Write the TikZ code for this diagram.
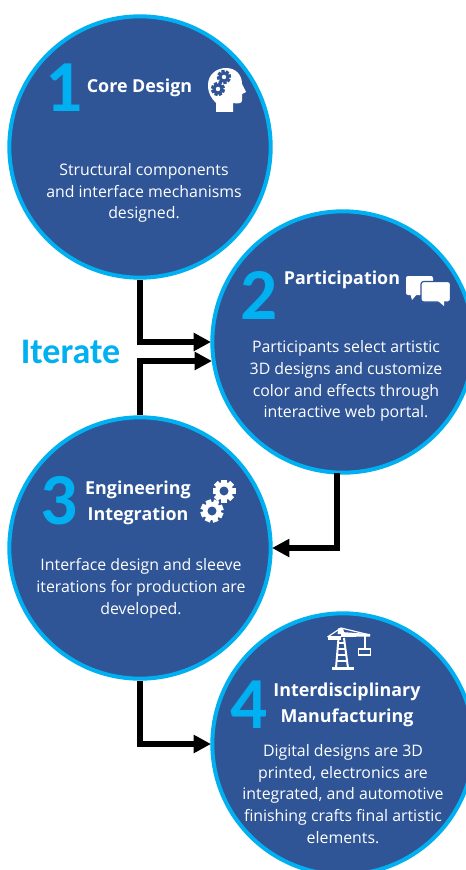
\documentclass[tikz,border=0pt]{standalone}
\usepackage{fontspec}
\setmainfont{Open Sans}
\newfontfamily\numfont{Carlito}
\usetikzlibrary{arrows.meta}
\definecolor{disc}{HTML}{2F5597}
\definecolor{cyanc}{HTML}{00B0F0}
\tikzset{
  x=0.75pt,y=-0.75pt,
  stage/.style={circle,draw=cyanc,line width=3pt,fill=disc,minimum size=196pt,inner sep=0pt},
  num/.style={text=cyanc,font=\numfont\bfseries\fontsize{55pt}{55pt}\selectfont,inner sep=0pt},
  ttl/.style={text=white,align=center,font=\bfseries\fontsize{13.4pt}{19.5pt}\selectfont,inner sep=0pt},
  body/.style={text=white,align=center,font=\fontsize{11.9pt}{16.4pt}\selectfont,inner sep=0pt},
  link/.style={draw=black,line width=3.9pt,-{Triangle[length=13pt,width=13pt]}},
  iconw/.style={fill=white,draw=none},
}
% gear: x, y, outer radius, hole radius, gear colour, rotation, hole colour
\newcommand{\gearicon}[7]{%
  \foreach \a in {0,45,...,315}{\fill[#5,rotate around={\a+#6:(#1,#2)}] (#1-0.24*#3,#2) rectangle (#1+0.24*#3,#2-#3);}
  \fill[#5] (#1,#2) circle[radius=0.78*#3];
  \fill[#7] (#1,#2) circle[radius=#4];
}
\begin{document}
\begin{tikzpicture}
\useasboundingbox (0,0) rectangle (466,870);
\fill[white] (0,0) rectangle (466,870);
\begin{scope}
\clip (0,0) rectangle (466,870);
\node[stage] (c1) at (140,147) {};
\node[stage] (c2) at (343,342) {};
\node[stage] (c3) at (140,548) {};
\node[stage] (c4) at (343,744) {};

\coordinate (p1) at (211,342);
\coordinate (p2) at (212,361);
\coordinate (o2) at (337,473);
\coordinate (p3) at (272,548);
\coordinate (p4) at (211,744);
\path[link] (c1.south) |- (p1);
\path[link] (c3.north) |- (p2);
\path[link] (o2) |- (p3);
\path[link] (c3.south) |- (p4);

\node[num] (n1) at (64,88) {1};
\node[num] (n2) at (259,295) {2};
\node[num] (n3) at (59,501) {3};
\node[num] (n4) at (249,705) {4};
\node[text=cyanc,font=\numfont\bfseries\fontsize{27pt}{27pt}\selectfont,inner sep=0pt] (it) at (70.5,352) {Iterate};

\node[ttl] (t1) at (139.5,88) {Core Design};
\node[ttl] (t2) at (342,280) {Participation};
\node[ttl] (t3) at (138,503) {Engineering\\Integration};
\node[ttl] (t4) at (347,705) {Interdisciplinary\\Manufacturing};

\node[body] (b1) at (144,193) {Structural components\\and interface mechanisms\\designed.};
\node[body] (b2) at (346,381) {Participants select artistic\\3D designs and customize\\color and effects through\\interactive web portal.};
\node[body] (b3) at (141,588) {Interface design and sleeve\\iterations for production are\\developed.};
\node[body] (b4) at (343,794) {Digital designs are 3D\\printed, electronics are\\integrated, and automotive\\finishing crafts final artistic\\elements.};

% head icon
\fill[iconw] (216,112) -- (216,103) .. controls (211,98) and (208,93) .. (208,85)
  .. controls (208,74) and (217,68) .. (226,68)
  .. controls (236,68) and (242,75) .. (242,84)
  -- (246,92) -- (242,94) -- (242,100) .. controls (242,103) and (240,104) .. (233,103)
  -- (233,112) -- cycle;
\gearicon{224}{77}{7}{2.2}{disc}{10}{white}
\gearicon{218}{89}{7}{2.2}{disc}{25}{white}

% speech bubbles
\fill[iconw,rounded corners=1.5pt] (406,276) rectangle (433,295);
\fill[iconw] (410,293) -- (412,300) -- (418,293) -- cycle;
\filldraw[fill=white,draw=disc,line width=0.9pt,rounded corners=2pt] (421,281.5) rectangle (450.5,302);
\fill[iconw] (438,301) -- (444,306) -- (444,301) -- cycle;

% gears
\gearicon{224}{491}{11.5}{4.5}{white}{0}{disc}
\gearicon{212}{511}{11.5}{4.5}{white}{20}{disc}

% crane
\begin{scope}[line cap=butt]
\fill[iconw] (332,666.5) rectangle (354,670);
\fill[iconw] (327.5,636) rectangle (341,640);
\fill[iconw] (341,632) -- (370,634) -- (370,636.5) -- (341,637) -- cycle;
\fill[iconw] (338.5,628) -- (343,628) -- (344.5,634) -- (337.5,634) -- cycle;
\draw[white,line width=0.9pt] (327.5,637) -- (341,628) -- (370,635);
\draw[white,line width=1.5pt] (338.5,638) -- (336,668) (344,638) -- (348,668);
\draw[white,line width=1.2pt] (337.7,643) -- (344,643) (337.2,649) -- (345,649) (336.8,655) -- (346,655) (336.4,661) -- (347,661);
\draw[white,line width=1.1pt] (365,636) -- (365,649);
\draw[white,line width=1.1pt] (358.5,649) rectangle (370.5,655);
\end{scope}
\end{scope}
\end{tikzpicture}
\end{document}
